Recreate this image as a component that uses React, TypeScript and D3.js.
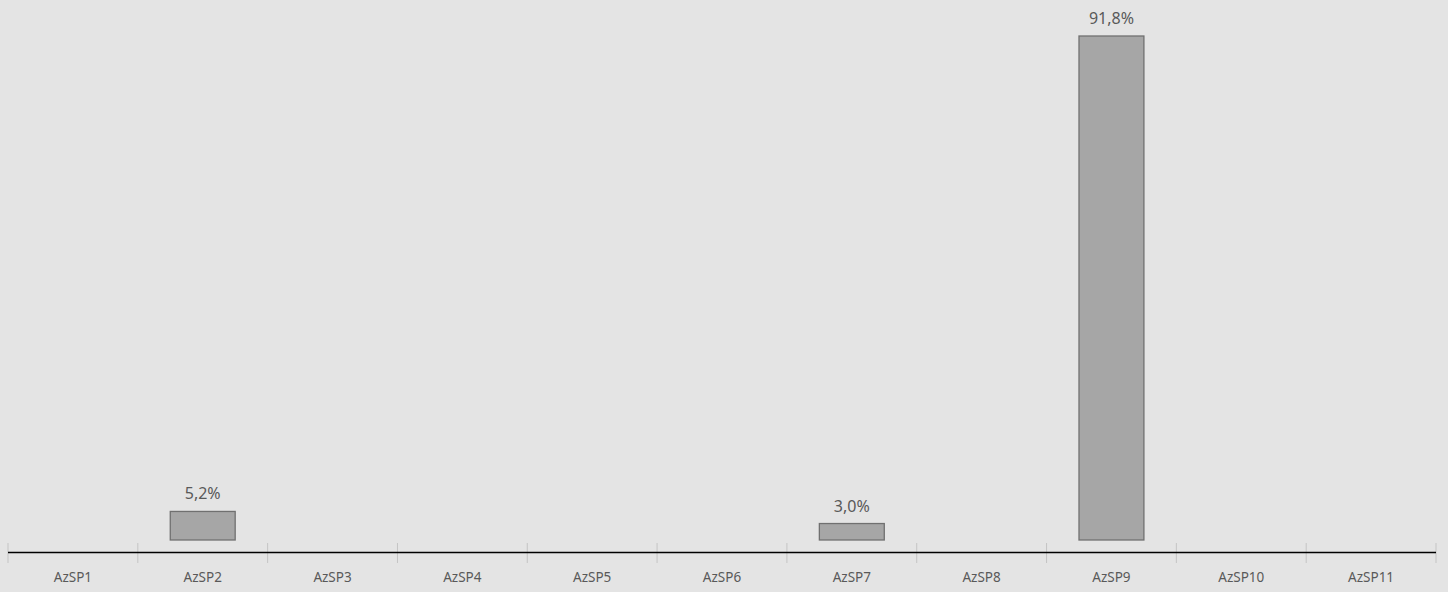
import * as d3 from "d3";

const categories = ["AzSP1", "AzSP2", "AzSP3", "AzSP4", "AzSP5", "AzSP6", "AzSP7", "AzSP8", "AzSP9", "AzSP10", "AzSP11"];
const values = [0, 5.2, 0, 0, 0, 0, 3.0, 0, 91.8, 0, 0];
const valueLabels = ["", "5,2%", "", "", "", "", "3,0%", "", "91,8%", "", ""];

const width = 1448;
const height = 592;

function App() {
	const x = d3.scaleBand<string>().domain(categories).range([8, 1436]).paddingInner(0).paddingOuter(0);
	const y = d3.scaleLinear().domain([0, 91.8]).range([540, 36]);
	const barW = x.bandwidth() * 0.5;
	const axisY = 552.5;
	const ticks = categories.map((c) => x(c) as number).concat([1436]);
	const font = "'Noto Sans', 'Open Sans', sans-serif";

	return (
		<div style={{ position: "fixed", left: 0, top: 0, width, height, background: "#e4e4e4" }}>
			<svg width={width} height={height} style={{ display: "block", fontFamily: font }}>
				<rect width={width} height={height} fill="#e4e4e4" />
				{categories.map((c, i) =>
					values[i] > 0 ? (
						<g key={c}>
							<rect
								x={(x(c) as number) + (x.bandwidth() - barW) / 2}
								y={y(values[i])}
								width={barW}
								height={y(0) - y(values[i])}
								fill="#a6a6a6"
								stroke="#707070"
								strokeWidth={1.3}
							/>
							<text
								x={(x(c) as number) + x.bandwidth() / 2}
								y={y(values[i]) - 12}
								textAnchor="middle"
								fontSize={16}
								fill="#595959"
							>
								{valueLabels[i]}
							</text>
						</g>
					) : null
				)}
				{ticks.map((t, i) => (
					<line key={i} x1={t} x2={t} y1={543} y2={563} stroke="#c4c4c4" strokeWidth={1} />
				))}
				<line x1={8} x2={1436} y1={axisY} y2={axisY} stroke="#000" strokeWidth={1.5} />
				{categories.map((c) => (
					<text
						key={c}
						x={(x(c) as number) + x.bandwidth() / 2}
						y={582}
						textAnchor="middle"
						fontSize={13.5}
						fill="#595959"
					>
						{c}
					</text>
				))}
			</svg>
		</div>
	);
}

export default App;
